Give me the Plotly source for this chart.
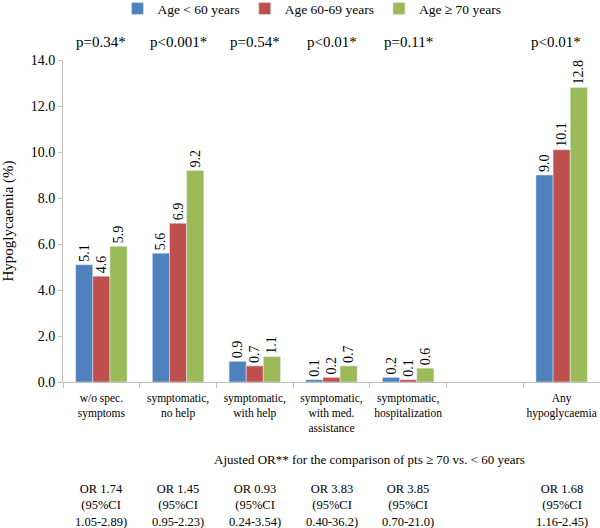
import plotly.graph_objects as go

categories = ["w/o spec.<br>symptoms", "symptomatic,<br>no help", "symptomatic,<br>with help",
              "symptomatic,<br>with med.<br>assistance", "symptomatic,<br>hospitalization", " ",
              "Any<br>hypoglycaemia"]
series_names = ["Age < 60 years", "Age 60-69 years", "Age \u2265 70 years"]
age_lt60 = [5.1, 5.6, 0.9, 0.1, 0.2, None, 9.0]
age_60_69 = [4.6, 6.9, 0.7, 0.2, 0.1, None, 10.1]
age_ge70 = [5.9, 9.2, 1.1, 0.7, 0.6, None, 12.8]
colors = ["#4F81BD", "#C0504D", "#9BBB59"]
p_values = ["p=0.34*", "p<0.001*", "p=0.54*", "p<0.01*", "p=0.11*", "", "p<0.01*"]
or_texts = ["OR 1.74<br>(95%CI<br>1.05-2.89)", "OR 1.45<br>(95%CI<br>0.95-2.23)",
            "OR 0.93<br>(95%CI<br>0.24-3.54)", "OR 3.83<br>(95%CI<br>0.40-36.2)",
            "OR 3.85<br>(95%CI<br>0.70-21.0)", "", "OR 1.68<br>(95%CI<br>1.16-2.45)"]
y_ticks = [0, 2, 4, 6, 8, 10, 12, 14]

FONT = "Liberation Serif"

fig = go.Figure()
for name, vals, col in zip(series_names, [age_lt60, age_60_69, age_ge70], colors):
    fig.add_trace(go.Bar(
        x=categories, y=vals, name=name, marker_color=col,
        text=[("%.1f" % v) if v is not None else "" for v in vals],
        textposition="outside", textangle=-90, cliponaxis=False,
        constraintext="none",
        textfont=dict(family=FONT, size=14, color="#000"),
    ))

for i, (c, p) in enumerate(zip(categories, p_values)):
    if p:
        fig.add_annotation(x=c, y=1.0, xref="x", yref="paper", yanchor="bottom", yshift=8,
                           xshift=(-6 if i == len(categories) - 1 else 0),
                           text=p, showarrow=False, font=dict(family=FONT, size=15, color="#000"))
for c, t in zip(categories, or_texts):
    if t:
        fig.add_annotation(x=c, y=-0.382, xref="x", yref="paper", yanchor="middle",
                           text=t, showarrow=False, align="center",
                           font=dict(family=FONT, size=12.5, color="#000"))
fig.add_annotation(x=0.57, y=-0.242, xref="paper", yref="paper", yanchor="middle",
                   text="Ajusted OR** for the comparison of pts \u2265 70 vs. < 60 years",
                   showarrow=False, font=dict(family=FONT, size=13, color="#000"))

fig.update_layout(
    width=600, height=528,
    margin=dict(l=63, r=0, t=60, b=146, autoexpand=False),
    paper_bgcolor="white", plot_bgcolor="white",
    barmode="group", bargap=0.33, bargroupgap=0,
    font=dict(family=FONT, color="#000"),
    legend=dict(orientation="h", x=0.52, xref="container", xanchor="center",
                y=1.207, yref="paper", yanchor="top",
                font=dict(family=FONT, size=13.5), itemwidth=30, traceorder="normal"),
)
fig.update_xaxes(
    type="category", showline=True, linecolor="#BFBFBF", linewidth=1,
    ticks="outside", tickson="boundaries", ticklen=5, tickcolor="#BFBFBF",
    showgrid=False, tickfont=dict(family=FONT, size=11.5), automargin=False, tickangle=0,
    ticklabelstandoff=5,
)
fig.update_yaxes(
    range=[0, 14], tickvals=y_ticks, tickformat=".1f", showline=True, linecolor="#BFBFBF",
    ticks="outside", ticklen=4, tickcolor="#BFBFBF", showgrid=False, zeroline=False,
    tickfont=dict(family=FONT, size=14), automargin=False,
    title=dict(text="Hypoglycaemia (%)", font=dict(family=FONT, size=15), standoff=13),
)

fig.write_html("out.html", config={"displayModeBar": False},
               post_script="document.body.style.margin='0';")
